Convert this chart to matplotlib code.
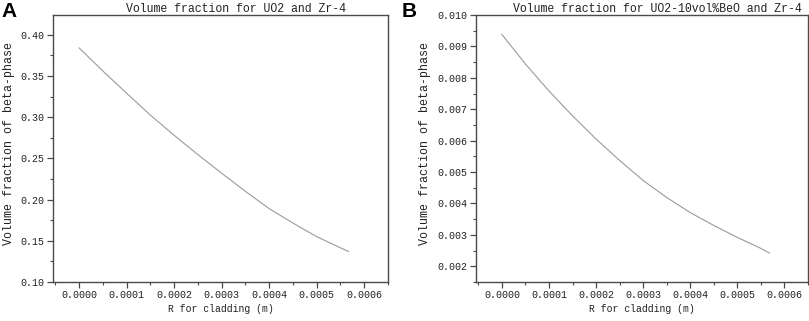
import matplotlib
matplotlib.use("Agg")
import matplotlib.pyplot as plt
from matplotlib.ticker import MultipleLocator, FormatStrFormatter

# Data
r_a = [0.0, 0.00005, 0.0001, 0.00015, 0.0002, 0.00025, 0.0003, 0.00035,
       0.0004, 0.00045, 0.0005, 0.00055, 0.000567]
frac_a = [0.384, 0.356, 0.329, 0.3025, 0.278, 0.2545, 0.232, 0.210,
          0.189, 0.1715, 0.155, 0.1415, 0.137]

r_b = [0.0, 0.00005, 0.0001, 0.00015, 0.0002, 0.00025, 0.0003, 0.00035,
       0.0004, 0.00045, 0.0005, 0.00055, 0.000568]
frac_b = [0.00938, 0.00844, 0.00758, 0.00679, 0.00605, 0.00537, 0.00473,
          0.00419, 0.00371, 0.00330, 0.00292, 0.00257, 0.00242]

title_a = "Volume fraction for UO2 and Zr-4"
title_b = "Volume fraction for UO2-10vol%BeO and Zr-4"
xlabel = "R for cladding (m)"
ylabel = "Volume fraction of beta-phase"

mono = "Liberation Mono"
text_col = "#222222"
fig = plt.figure(figsize=(8.09, 3.21), dpi=100)

ax_a = fig.add_axes([53/809, 39/321, 335/809, 267/321])
ax_b = fig.add_axes([476/809, 39/321, 332/809, 267/321])

spine_col = "#4a4a4a"
for ax, r, f, title in [(ax_a, r_a, frac_a, title_a), (ax_b, r_b, frac_b, title_b)]:
    ax.plot(r, f, color="#9a9a9a", lw=0.8)
    ax.set_xlim(-0.000055, 0.00065)
    ax.xaxis.set_major_locator(MultipleLocator(0.0001))
    ax.xaxis.set_minor_locator(MultipleLocator(0.00005))
    ax.xaxis.set_major_formatter(FormatStrFormatter("%.4f"))
    for s in ax.spines.values():
        s.set_color(spine_col)
        s.set_linewidth(1.0)
    ax.tick_params(which="major", direction="out", length=4, width=0.9,
                   color=spine_col, labelsize=7.2, pad=2, labelcolor=text_col)
    ax.tick_params(which="minor", direction="out", length=2.2, width=0.8,
                   color=spine_col)
    ax.set_xlabel(xlabel, family=mono, fontsize=7.0, color=text_col, labelpad=3)
    ax.set_title(title, family=mono, fontsize=8.3, color=text_col, x=0.545,
                 pad=1.5)
    ax.set_ylabel(ylabel, family=mono, fontsize=8.4, color=text_col)

ax_a.set_ylim(0.10, 0.424)
ax_a.yaxis.set_major_locator(MultipleLocator(0.05))
ax_a.yaxis.set_minor_locator(MultipleLocator(0.025))
ax_a.yaxis.set_major_formatter(FormatStrFormatter("%.2f"))

ax_b.set_ylim(0.0015, 0.010)
ax_b.yaxis.set_major_locator(MultipleLocator(0.001))
ax_b.yaxis.set_minor_locator(MultipleLocator(0.0005))
ax_b.yaxis.set_major_formatter(FormatStrFormatter("%.3f"))

for ax in (ax_a, ax_b):
    for lab in ax.get_xticklabels() + ax.get_yticklabels():
        lab.set_family(mono)

ax_a.yaxis.set_label_coords(-0.112, 0.52)
ax_b.yaxis.set_label_coords(-0.135, 0.52)

fig.text(0.002, 0.995, "A", fontsize=15, fontweight="bold", family="Liberation Sans",
         va="top", ha="left")
fig.text(402/809, 0.995, "B", fontsize=15, fontweight="bold", family="Liberation Sans",
         va="top", ha="left")

fig.savefig("out.png", dpi=100)
